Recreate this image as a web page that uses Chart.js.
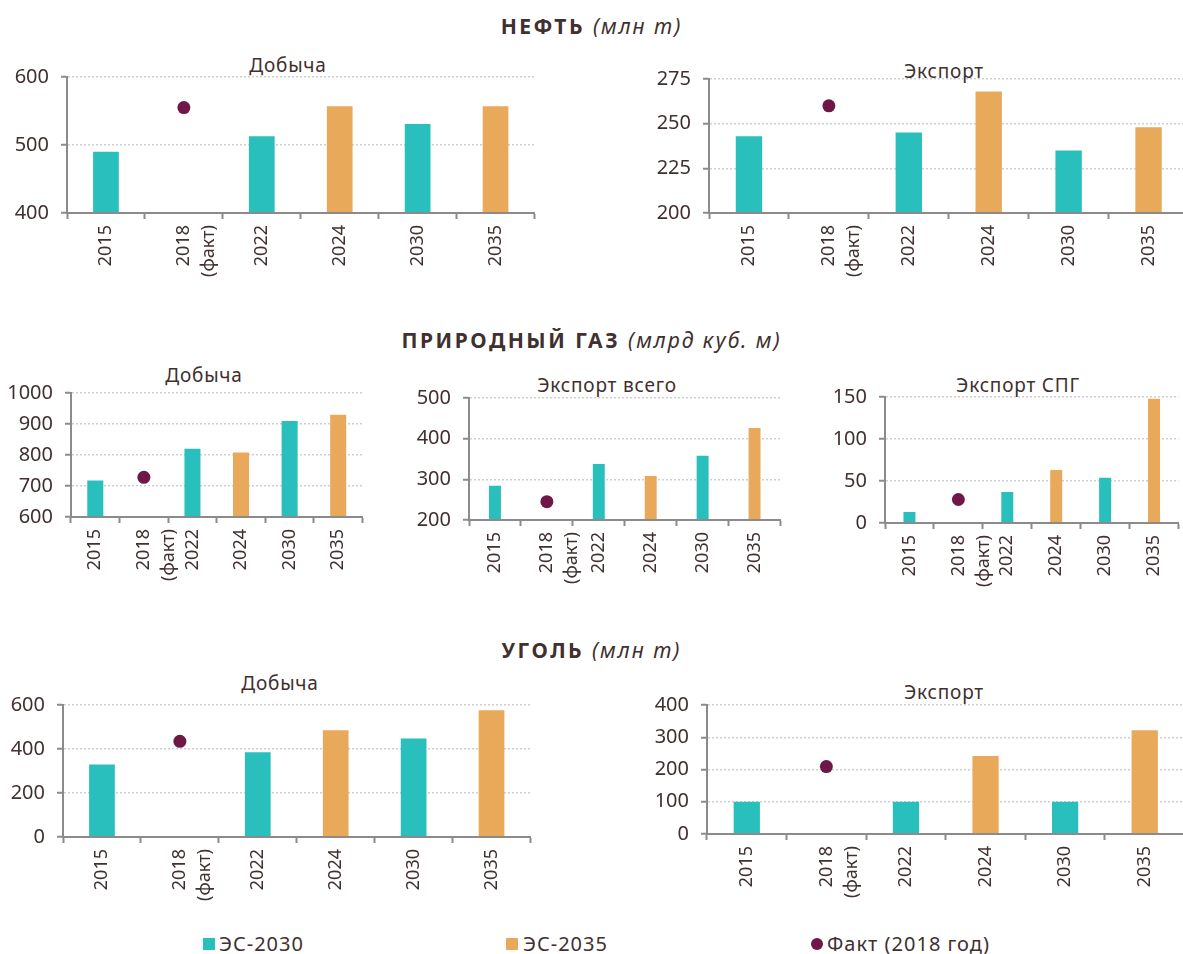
<!DOCTYPE html>
<html>
<head>
<meta charset="utf-8">
<script src="https://cdn.jsdelivr.net/npm/chart.js@4.4.0/dist/chart.umd.min.js"></script>
<style>
body { margin: 0; background: #fff; }
#page { position: relative; width: 1183px; height: 954px; overflow: hidden; font-family: 'Noto Sans', sans-serif; color: #40302f; }
#page canvas { position: absolute; }
.sec { position: absolute; left: 0; width: 1183px; text-align: center; font-weight: bold; font-size: 21px; letter-spacing: 2.5px; line-height: 1; transform: translateY(-50%); }
.sec i { font-weight: normal; letter-spacing: 2px; }
.sub { position: absolute; transform: translate(-50%, -50%); font-size: 19px; letter-spacing: 0.8px; white-space: nowrap; line-height: 1; }
.leg { position: absolute; top: 944px; transform: translateY(-50%); font-size: 20px; letter-spacing: 1px; line-height: 1; white-space: nowrap; }
.sw { position: absolute; width: 12px; height: 12px; top: 938px; }
.dot { position: absolute; width: 12px; height: 12px; border-radius: 50%; top: 938px; background: #6f1747; }
</style>
</head>
<body>
<div id="page">
  <div class="sec" style="top:26px">НЕФТЬ <i>(млн т)</i></div>
  <div class="sec" style="top:340px">ПРИРОДНЫЙ ГАЗ <i>(млрд куб. м)</i></div>
  <div class="sec" style="top:650px">УГОЛЬ <i>(млн т)</i></div>

  <div class="sub" style="left:288px;top:65px">Добыча</div>
  <div class="sub" style="left:944px;top:71px">Экспорт</div>
  <div class="sub" style="left:204px;top:375px">Добыча</div>
  <div class="sub" style="left:607px;top:385px">Экспорт всего</div>
  <div class="sub" style="left:1018px;top:385px">Экспорт СПГ</div>
  <div class="sub" style="left:280px;top:683px">Добыча</div>
  <div class="sub" style="left:944px;top:692px">Экспорт</div>

  <canvas id="c1"></canvas>
  <canvas id="c2"></canvas>
  <canvas id="c3"></canvas>
  <canvas id="c4"></canvas>
  <canvas id="c5"></canvas>
  <canvas id="c6"></canvas>
  <canvas id="c7"></canvas>

  <div class="sw" style="left:203px;background:#29bfbc"></div>
  <div class="leg" style="left:219px">ЭС-2030</div>
  <div class="sw" style="left:506px;background:#e8a95a"></div>
  <div class="leg" style="left:523px">ЭС-2035</div>
  <div class="dot" style="left:811px"></div>
  <div class="leg" style="left:827px">Факт (2018 год)</div>
</div>
<script>
// categories (same for every panel)
const categories = ['2015', ['2018', '(факт)'], '2022', '2024', '2030', '2035'];

// oil, mln t
const oilProd2030 = [490, null, 513, null, 531, null];
const oilProd2035 = [null, null, null, 557, null, 557];
const oilProdFact = [null, 555, null, null, null, null];
const oilExp2030 = [243, null, 245, null, 235, null];
const oilExp2035 = [null, null, null, 268, null, 248];
const oilExpFact = [null, 260, null, null, null, null];

// natural gas, bcm
const gasProd2030 = [718, null, 820, null, 910, null];
const gasProd2035 = [null, null, null, 808, null, 930];
const gasProdFact = [null, 728, null, null, null, null];
const gasExp2030 = [284, null, 338, null, 358, null];
const gasExp2035 = [null, null, null, 308, null, 426];
const gasExpFact = [null, 245, null, null, null, null];
const lng2030 = [13, null, 37, null, 54, null];
const lng2035 = [null, null, null, 63, null, 148];
const lngFact = [null, 28, null, null, null, null];

// coal, mln t
const coalProd2030 = [330, null, 385, null, 448, null];
const coalProd2035 = [null, null, null, 485, null, 576];
const coalProdFact = [null, 435, null, null, null, null];
const coalExp2030 = [100, null, 100, null, 100, null];
const coalExp2035 = [null, null, null, 242, null, 322];
const coalExpFact = [null, 209, null, null, null, null];

const TEAL = '#29bfbc', ORANGE = '#e8a95a', PLUM = '#6f1747';
const AXIS = '#8c8a8a', GRID = '#cfcfcf', TEXT = '#40302f';
const YW = 70, XH = 92, PT = 14, PR = 6;

Chart.defaults.font.family = "'Noto Sans', sans-serif";
Chart.defaults.font.size = 18;
Chart.defaults.color = TEXT;

function drawPanel(id, area, s2030, s2035, fact, yMin, yMax, yStep, barPct) {
    const [x0, top, x1, bottom] = area;
    const cv = document.getElementById(id);
    const left = x0 - YW, ctop = top - PT;
    cv.width = x1 - left + PR;
    cv.height = bottom - ctop + XH;
    cv.style.left = left + 'px';
    cv.style.top = ctop + 'px';
    new Chart(cv.getContext('2d'), {
        data: {
            labels: categories,
            datasets: [
                { type: 'line', label: 'Факт (2018 год)', data: fact, showLine: false,
                  pointRadius: 6.5, pointBackgroundColor: PLUM, pointBorderWidth: 0, order: 0 },
                { type: 'bar', label: 'ЭС-2030', data: s2030, backgroundColor: TEAL, order: 1 },
                { type: 'bar', label: 'ЭС-2035', data: s2035, backgroundColor: ORANGE, order: 1 }
            ]
        },
        options: {
            responsive: false,
            animation: false,
            devicePixelRatio: 1,
            grouped: false,
            barPercentage: barPct,
            categoryPercentage: 1,
            layout: { padding: { top: PT, right: PR, left: 0, bottom: 0 } },
            plugins: { legend: { display: false }, tooltip: { enabled: false } },
            scales: {
                x: {
                    afterFit: s => { s.height = XH; s.paddingLeft = 0; s.paddingRight = 0; },
                    grid: { drawOnChartArea: false, offset: true, tickLength: 6, tickColor: AXIS, tickWidth: 2 },
                    border: { color: AXIS, width: 2, z: 1 },
                    ticks: { minRotation: 90, maxRotation: 90, autoSkip: false, padding: 6,
                             font: { size: 18, lineHeight: 1.4 } }
                },
                y: {
                    min: yMin, max: yMax,
                    afterFit: s => { s.width = YW; s.paddingTop = 0; s.paddingBottom = 0; },
                    grid: { color: GRID, lineWidth: 1.5, tickLength: 6, tickColor: AXIS, tickWidth: 2 },
                    border: { color: AXIS, width: 2, dash: [2, 2] },
                    ticks: { stepSize: yStep, padding: 12, font: { size: 20 }, callback: v => String(v) }
                }
            }
        }
    });
}

drawPanel('c1', [67, 77, 535, 213], oilProd2030, oilProd2035, oilProdFact, 400, 600, 100, 0.33);
drawPanel('c2', [709, 79, 1189, 213], oilExp2030, oilExp2035, oilExpFact, 200, 275, 25, 0.33);
drawPanel('c3', [71, 393, 363, 517], gasProd2030, gasProd2035, gasProdFact, 600, 1000, 100, 0.33);
drawPanel('c4', [469, 398, 781, 520], gasExp2030, gasExp2035, gasExpFact, 200, 500, 100, 0.23);
drawPanel('c5', [885, 397, 1179, 523], lng2030, lng2035, lngFact, 0, 150, 50, 0.245);
drawPanel('c6', [63, 705, 531, 837], coalProd2030, coalProd2035, coalProdFact, 0, 600, 200, 0.33);
drawPanel('c7', [707, 705, 1185, 834], coalExp2030, coalExp2035, coalExpFact, 0, 400, 100, 0.33);
</script>
</body>
</html>
